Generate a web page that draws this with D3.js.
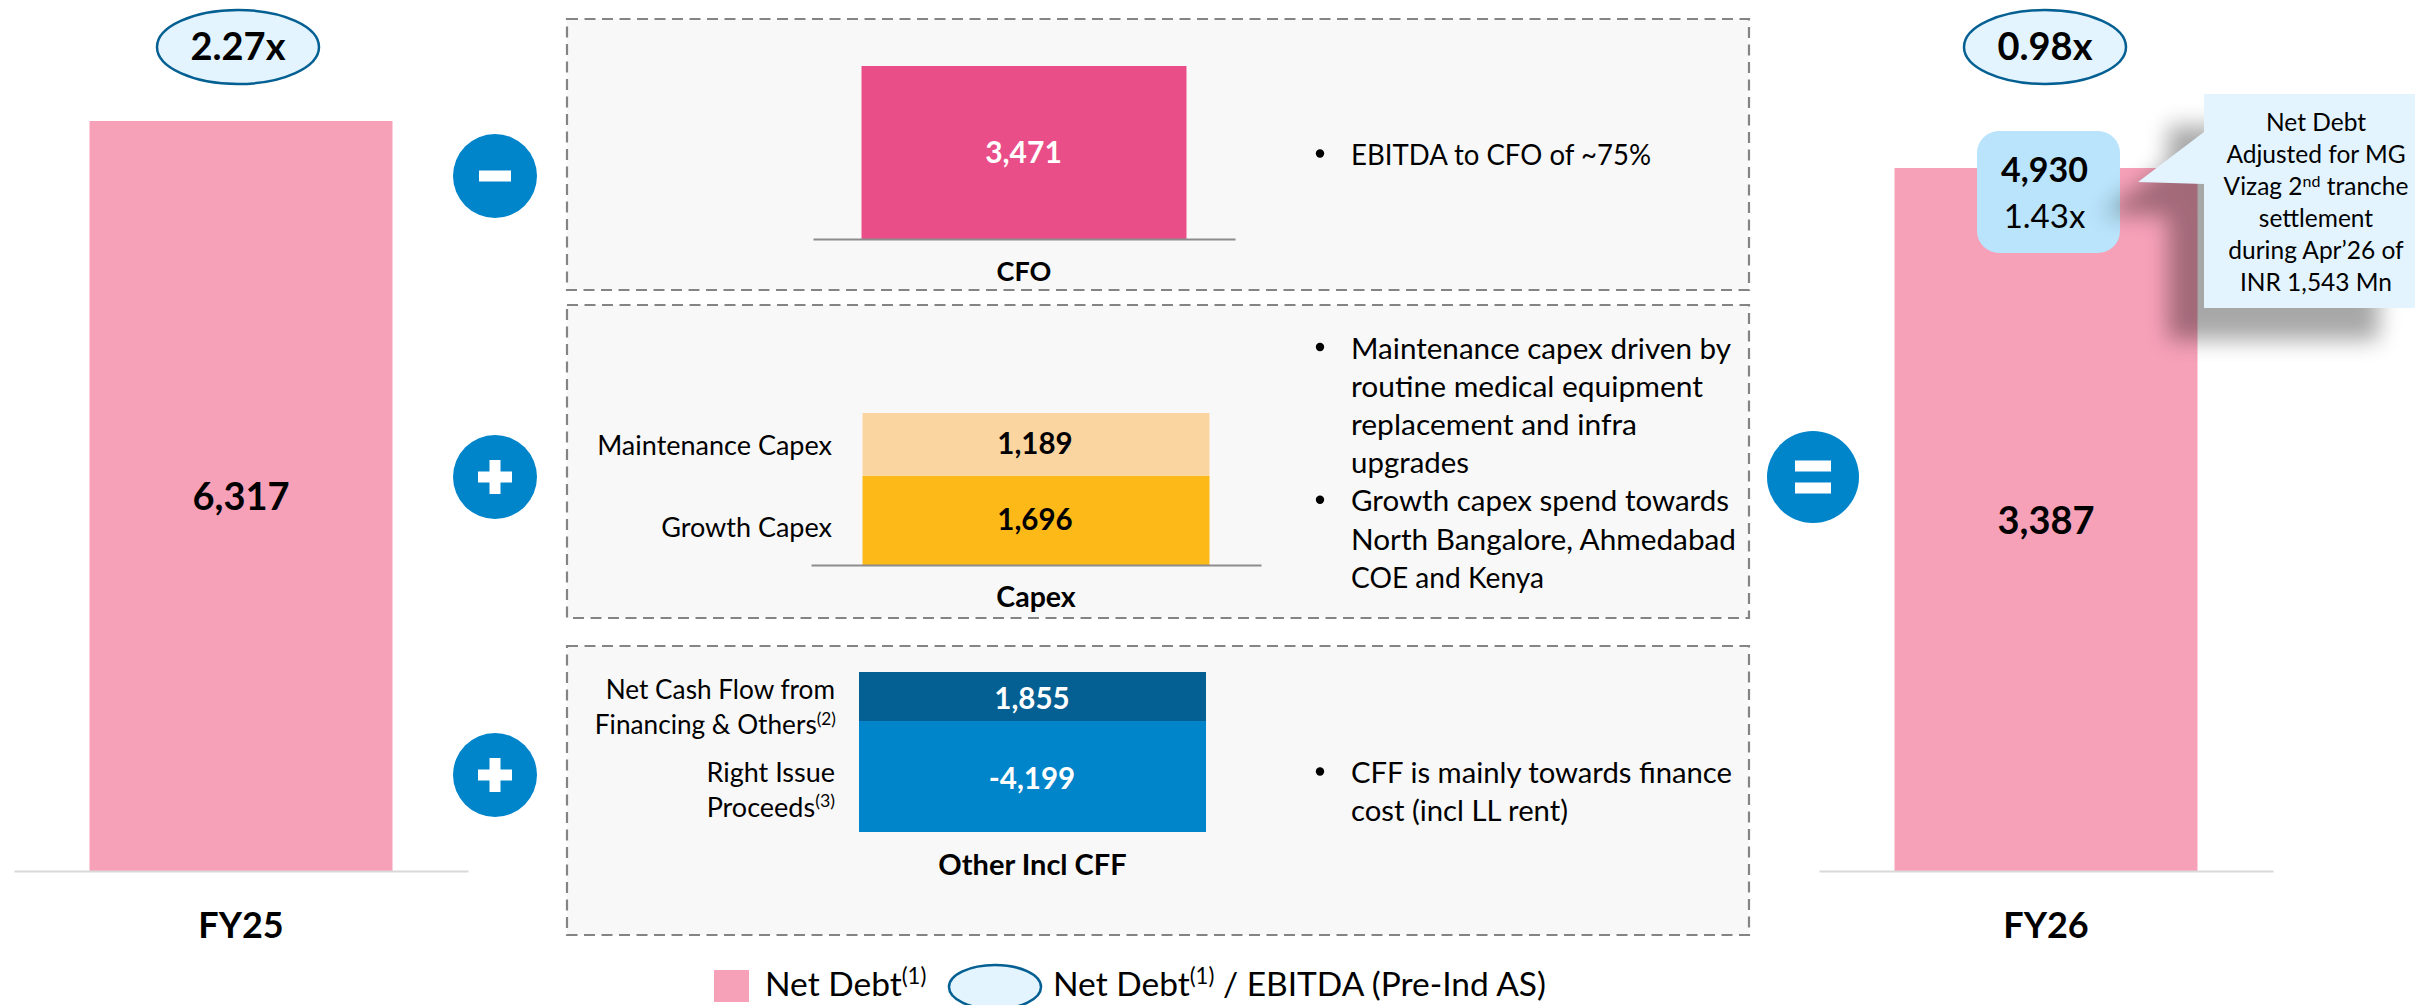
<!DOCTYPE html>
<html><head><meta charset="utf-8">
<script src="https://cdnjs.cloudflare.com/ajax/libs/d3/7.8.5/d3.min.js"></script>
<style>html,body{margin:0;background:#fff}svg{display:block}text{font-family:Lato,Carlito,"Open Sans",sans-serif;fill:#000}</style>
</head><body><svg id="c" width="2415" height="1005"></svg>
<script>
// ---- data ----
const fy25Category = ["FY25"];
const fy25Debt = [6317];
const fy25Ratio = "2.27x";
const fy26Category = ["FY26"];
const fy26Debt = [3387];
const fy26Ratio = "0.98x";
const adjustedDebt = "4,930";
const adjustedRatio = "1.43x";
const cfoCategory = ["CFO"];
const cfoValues = [3471];
const capexCategory = ["Capex"];
const capexNames = ["Growth Capex", "Maintenance Capex"];
const capexValues = [1696, 1189];
const cffCategory = ["Other Incl CFF"];
const cffValues = [-4199, 1855];
const cfoNotes = ["EBITDA to CFO of ~75%"];
const capexNotes = [["Maintenance capex driven by","routine medical equipment","replacement and infra","upgrades"],["Growth capex spend towards","North Bangalore, Ahmedabad","COE and Kenya"]];
const cffNotes = ["CFF is mainly towards finance","cost (incl LL rent)"];
const calloutLines = ["Net Debt","Adjusted for MG",["Vizag 2","nd"," tranche"],"settlement","during Apr’26 of","INR 1,543 Mn"];

// ---- colours ----
const PINK="#f7a1b9", HOT="#ea4e88", PEACH="#fbd5a0", AMBER="#fcb918", NAVY="#045f92", BLUE="#0084ca", PALE="#e3f4fe", SKY="#b9e4fb", PANEL="#f8f8f8";
const fmt=v=>d3.format(",")(v).replace("−","-");

// rendered line widths of the note text
const noteWidths=new Map([["EBITDA to CFO of ~75%",300],["Maintenance capex driven by",380],["routine medical equipment",352],["replacement and infra",286],["upgrades",118],["Growth capex spend towards",378],["North Bangalore, Ahmedabad",385],["COE and Kenya",193],["CFF is mainly towards finance",381],["cost (incl LL rent)",217]]);

const svg=d3.select("#c");
const defs=svg.append("defs");
defs.append("filter").attr("id","blur").attr("x","-30%").attr("y","-30%").attr("width","160%").attr("height","160%")
  .append("feGaussianBlur").attr("stdDeviation",11);

function txt(g,x,y,s,o={}){
  const t=g.append("text").attr("x",x).attr("y",y).attr("text-anchor",o.anchor||"middle")
    .attr("font-size",o.size||27).attr("font-weight",o.weight||400).style("fill",o.fill||"#000").text(s);
  if(o.w) t.attr("textLength",o.w).attr("lengthAdjust","spacingAndGlyphs");
  return t;
}
function bandFor(domain,x0,x1,barW){
  const r=barW/(x1-x0); const p=(1-r)/(1+r);
  return d3.scaleBand().domain(domain).range([x0,x1]).paddingInner(p).paddingOuter(p);
}
function sup(t,s,size){
  t.append("tspan").attr("dy",-size*0.36).attr("font-size",size*0.66).text(s);
  return t;
}
function axis(x,y,size,labelY,line){
  const g=svg.append("g").attr("transform",`translate(0,${y})`).call(d3.axisBottom(x).tickSize(0).tickSizeOuter(0));
  g.select(".domain").attr("stroke",line||"#8c8c8c").attr("stroke-width",2);
  g.selectAll("text").attr("y",labelY-y).attr("dy",0).attr("font-size",size).attr("font-weight",700).style("font-family","Lato");
  return g;
}

// ---- dashed panels ----
const panels=[[567,19,1749,290],[567,305,1749,618],[567,646,1749,935]];
svg.selectAll("rect.panel").data(panels).join("rect").attr("class","panel")
  .attr("x",d=>d[0]).attr("y",d=>d[1]).attr("width",d=>d[2]-d[0]).attr("height",d=>d[3]-d[1])
  .attr("fill",PANEL).attr("stroke","#848484").attr("stroke-width",2.2).attr("stroke-dasharray","11 6.5");

// ---- FY25 ----
const xL=bandFor(fy25Category,14,468,303), yL=d3.scaleLinear().domain([0,fy25Debt[0]]).range([871,121]);
svg.append("g").selectAll("rect").data(fy25Debt).join("rect").attr("x",xL("FY25")).attr("width",xL.bandwidth())
  .attr("y",d=>yL(d)).attr("height",d=>yL(0)-yL(d)).attr("fill",PINK);
axis(xL,871,36,938,"#d9d9d9");
txt(svg,xL("FY25")+xL.bandwidth()/2,510,fmt(fy25Debt[0]),{size:38,weight:700});

// ---- FY26 ----
const xR=bandFor(fy26Category,1819,2273,303), yR=d3.scaleLinear().domain([0,fy26Debt[0]]).range([871,168]);
svg.append("g").selectAll("rect").data(fy26Debt).join("rect").attr("x",xR("FY26")).attr("width",xR.bandwidth())
  .attr("y",d=>yR(d)).attr("height",d=>yR(0)-yR(d)).attr("fill",PINK);
axis(xR,871,36,938,"#d9d9d9");
txt(svg,xR("FY26")+xR.bandwidth()/2,534,fmt(fy26Debt[0]),{size:38,weight:700});

// ---- ratio ellipses ----
[[238,fy25Ratio],[2045,fy26Ratio]].forEach(([cx,s])=>{
  svg.append("ellipse").attr("cx",cx).attr("cy",47).attr("rx",81).attr("ry",37).attr("fill",PALE).attr("stroke",NAVY).attr("stroke-width",2.5);
  txt(svg,cx,60,s,{size:38,weight:700});
});

// ---- CFO ----
const xCfo=bandFor(cfoCategory,813,1235,325), yCfo=d3.scaleLinear().domain([0,cfoValues[0]]).range([239,66]);
svg.append("g").selectAll("rect").data(cfoValues).join("rect").attr("x",xCfo("CFO")).attr("width",xCfo.bandwidth())
  .attr("y",d=>yCfo(d)).attr("height",d=>yCfo(0)-yCfo(d)).attr("fill",HOT);
axis(xCfo,239,27,281);
txt(svg,1023.5,163,fmt(cfoValues[0]),{size:30,weight:700,fill:"#fff"});

// ---- Capex ----
const xCap=bandFor(capexCategory,811,1261,347), yCap=d3.scaleLinear().domain([0,capexValues[0]+capexValues[1]]).range([565,413]);
const capStack=d3.stack().keys([0,1]).value((d,k)=>d[k])([capexValues]);
const capColor=[AMBER,PEACH];
svg.append("g").selectAll("rect").data(capStack).join("rect").attr("x",xCap("Capex")).attr("width",xCap.bandwidth())
  .attr("y",d=>yCap(d[0][1])).attr("height",d=>yCap(d[0][0])-yCap(d[0][1])).attr("fill",(d,i)=>capColor[i]);
axis(xCap,565,28.5,607);
capStack.forEach((d,i)=>{
  const cy=(yCap(d[0][0])+yCap(d[0][1]))/2;
  txt(svg,1035,cy+10,fmt(capexValues[i]),{size:29.5,weight:700});
  txt(svg,832,cy+(i?11:17),capexNames[i],{size:27,anchor:"end"});
});

// ---- CFF (stack of magnitudes, top segment is the financing flow) ----
const cffMag=cffValues.map(Math.abs);
const xCff=bandFor(cffCategory,790,1275,347), yCff=d3.scaleLinear().domain([0,cffMag[0]+cffMag[1]]).range([832,672]);
const cffStack=d3.stack().keys([0,1]).value((d,k)=>d[k])([cffMag]);
const cffColor=[BLUE,NAVY];
svg.append("g").selectAll("rect").data(cffStack).join("rect").attr("x",xCff(cffCategory[0])).attr("width",xCff.bandwidth())
  .attr("y",d=>yCff(d[0][1])).attr("height",d=>yCff(d[0][0])-yCff(d[0][1])).attr("fill",(d,i)=>cffColor[i]);
axis(xCff,832,29,875).select(".domain").remove();
txt(svg,1032,709,fmt(cffValues[1]),{size:29.5,weight:700,fill:"#fff"});
txt(svg,1032,789,fmt(cffValues[0]),{size:29.5,weight:700,fill:"#fff"});
txt(svg,835,699,"Net Cash Flow from",{size:26.2,anchor:"end"});
sup(txt(svg,836,734,"Financing & Others",{size:26.2,anchor:"end"}),"(2)",26.2);
txt(svg,835,782,"Right Issue",{size:27,anchor:"end"});
sup(txt(svg,835,817,"Proceeds",{size:27,anchor:"end"}),"(3)",27);

// ---- notes ----
function notes(groups,x,y,lh){
  let yy=y;
  groups.forEach(g=>{
    svg.append("circle").attr("cx",x).attr("cy",yy-11.5).attr("r",4.2).attr("fill","#000");
    g.forEach(l=>{txt(svg,x+31,yy,l,{size:29,anchor:"start",w:noteWidths.get(l)});yy+=lh;});
  });
}
notes([cfoNotes],1320,165,38);
notes(capexNotes,1320,358.5,38.2);
notes([cffNotes],1320,783,38);

// ---- operators ----
function op(cx,cy,r,kind){
  svg.append("ellipse").attr("cx",cx).attr("cy",cy).attr("rx",r).attr("ry",r).attr("fill",BLUE);
  const bar=(x,y,bw,bh)=>svg.append("rect").attr("x",x-bw/2).attr("y",y-bh/2).attr("width",bw).attr("height",bh).attr("fill","#fff");
  if(kind==="-") bar(cx,cy,32,11);
  if(kind==="+"){bar(cx,cy,34,11);bar(cx,cy,11,34);}
  if(kind==="="){bar(cx,cy-11,36,11);bar(cx,cy+11,36,11);}
}
op(495,176,42,"-");op(495,477,42,"+");op(495,775,42,"+");op(1813,477,46,"=");

// ---- adjusted box ----
svg.append("rect").attr("x",1977).attr("y",131).attr("width",143).attr("height",122).attr("rx",22).attr("fill",SKY);
txt(svg,2044.5,182,adjustedDebt,{size:34,weight:700});
txt(svg,2044.5,228,adjustedRatio,{size:33});

// ---- callout with shadow ----
const calloutPts=[[2204,94],[2415,94],[2415,308],[2204,308],[2204,184],[2138,182],[2204,132]];
const line=d3.line();
svg.append("path").attr("d",line(calloutPts.map(([x,y])=>[x-36,y+32]))+"Z").attr("fill","#000").attr("opacity",.34).attr("filter","url(#blur)");
svg.append("path").attr("d",line(calloutPts)+"Z").attr("fill",PALE);
calloutLines.forEach((l,i)=>{
  const y=131+i*32;
  if(Array.isArray(l)){
    const t=txt(svg,2316,y,l[0],{size:24.5});
    t.append("tspan").attr("dy",-8).attr("font-size",16).text(l[1]);
    t.append("tspan").attr("dy",8).text(l[2]);
  } else txt(svg,2316,y,l,{size:24.5});
});

// ---- legend ----
svg.append("rect").attr("x",714).attr("y",970).attr("width",35).attr("height",32).attr("fill",PINK);
sup(txt(svg,765,996,"Net Debt",{size:33.5,anchor:"start"}),"(1)",33.5);
svg.append("ellipse").attr("cx",995).attr("cy",987).attr("rx",46).attr("ry",22).attr("fill",PALE).attr("stroke",NAVY).attr("stroke-width",2.5);
const lt=sup(txt(svg,1053,996,"Net Debt",{size:33.5,anchor:"start"}),"(1)",33.5);
lt.append("tspan").attr("dy",33.5*0.36).text(" / EBITDA (Pre-Ind AS)");
</script></body></html>
